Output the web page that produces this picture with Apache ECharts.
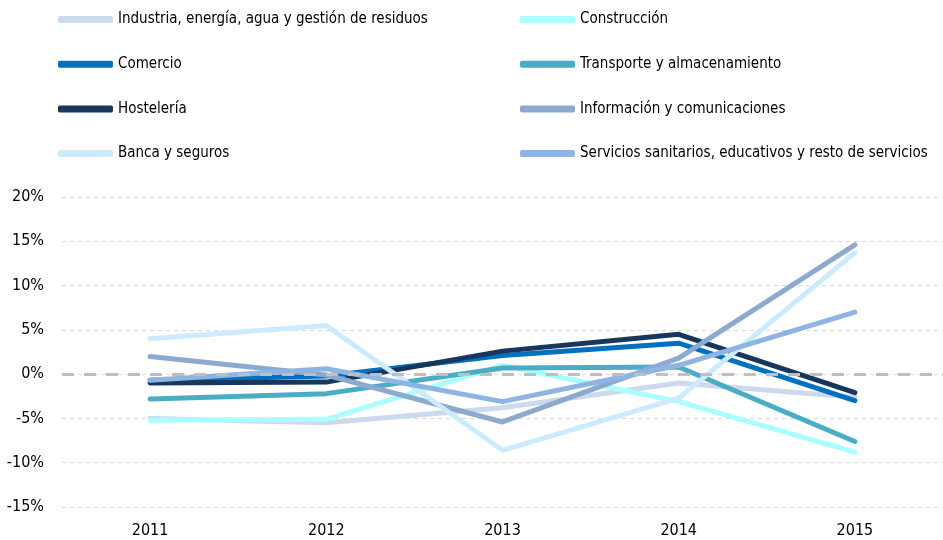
<!DOCTYPE html>
<html>
<head>
<meta charset="utf-8">
<script src="https://cdn.jsdelivr.net/npm/echarts@6/dist/echarts.min.js"></script>
<style>
html, body { margin: 0; padding: 0; background: #fff; }
#chart { width: 943px; height: 540px; }
</style>
</head>
<body>
<div id="chart"></div>
<script>
// años
var years = ['2011', '2012', '2013', '2014', '2015'];

// tasas de variación (%) por sector
var industria = [-5.0, -5.5, -3.8, -1.0, -2.6];
var construccion = [-5.2, -5.1, 1.0, -3.1, -8.8];
var comercio = [-0.7, -0.2, 2.1, 3.5, -3.0];
var transporte = [-2.8, -2.2, 0.7, 0.8, -7.6];
var hosteleria = [-1.0, -0.9, 2.6, 4.5, -2.1];
var informacion = [2.0, -0.1, -5.4, 1.8, 14.6];
var banca = [4.0, 5.5, -8.6, -2.7, 13.7];
var servicios = [-0.7, 0.6, -3.1, 1.0, 7.0];

var yTicks = [-15, -10, -5, 0, 5, 10, 15, 20];

var chart = echarts.init(document.getElementById('chart'));

function linea (name, data, color) {
    return {
        name: name,
        type: 'line',
        data: data,
        symbol: 'none',
        lineStyle: { color: color, width: 5, cap: 'round', join: 'round' },
        itemStyle: { color: color }
    };
}

var series = [
    linea('Industria, energía, agua y gestión de residuos', industria, '#cdd9ec'),
    linea('Construcción', construccion, '#a9ffff'),
    linea('Comercio', comercio, '#0070c0'),
    linea('Transporte y almacenamiento', transporte, '#4bacc6'),
    linea('Hostelería', hosteleria, '#17375e'),
    linea('Información y comunicaciones', informacion, '#8ea9cf'),
    linea('Banca y seguros', banca, '#cdebff'),
    linea('Servicios sanitarios, educativos y resto de servicios', servicios, '#8db4e2')
];

// línea del cero
series[0].markLine = {
    silent: true,
    symbol: 'none',
    label: { show: false },
    lineStyle: { color: '#bfbfbf', width: 3, type: [12, 10] },
    data: [{ yAxis: 0 }]
};

var font = "'Liberation Sans Narrow', 'DejaVu Sans Condensed', sans-serif";
var legendText = { color: '#000', fontSize: 15, fontFamily: font };

var option = {
    backgroundColor: '#fff',
    animation: false,
    legend: [{
        orient: 'vertical',
        left: 53,
        top: 7,
        itemWidth: 55,
        itemHeight: 7,
        itemGap: 29.7,
        icon: 'roundRect',
        textStyle: legendText,
        data: [series[0].name, series[2].name, series[4].name, series[6].name]
    }, {
        orient: 'vertical',
        left: 515,
        top: 7,
        itemWidth: 55,
        itemHeight: 7,
        itemGap: 29.7,
        icon: 'roundRect',
        textStyle: legendText,
        data: [series[1].name, series[3].name, series[5].name, series[7].name]
    }],
    grid: {
        left: 62,
        right: -11,
        top: 197,
        bottom: 33
    },
    xAxis: {
        type: 'category',
        data: years,
        boundaryGap: true,
        axisLine: { show: false },
        axisTick: { show: false },
        axisLabel: { color: '#000', fontSize: 16, fontFamily: font, margin: 16 }
    },
    yAxis: {
        type: 'value',
        min: yTicks[0],
        max: yTicks[yTicks.length - 1],
        interval: 5,
        axisLine: { show: false },
        axisTick: { show: false },
        axisLabel: {
            color: '#000', fontSize: 16, fontFamily: font, margin: 18,
            formatter: function (v) { return v + '%'; }
        },
        splitLine: {
            show: true,
            lineStyle: { color: '#d9d9d9', width: 1, type: [4, 4] }
        }
    },
    series: series
};

chart.setOption(option);
</script>
</body>
</html>
